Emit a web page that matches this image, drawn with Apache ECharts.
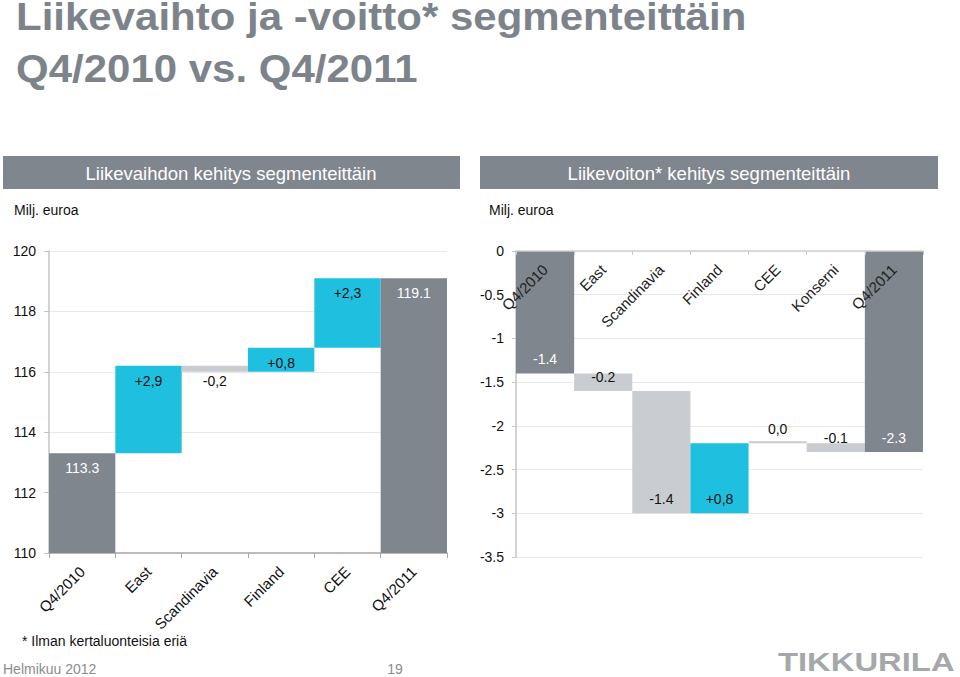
<!DOCTYPE html>
<html><head><meta charset="utf-8">
<script src="https://cdn.jsdelivr.net/npm/echarts@6/dist/echarts.min.js"></script>
<style>html,body{margin:0;padding:0;background:#fff;}#c{width:960px;height:677px;}</style>
</head><body><div id="c"></div>
<script>
// ---- Data ----
const leftCategories = ['Q4/2010', 'East', 'Scandinavia', 'Finland', 'CEE', 'Q4/2011'];
const leftValues = [113.3, 2.9, -0.2, 0.8, 2.3, 119.1];
const leftIsTotal = [true, false, false, false, false, true];
const leftLabels = ['113.3', '+2,9', '-0,2', '+0,8', '+2,3', '119.1'];
const leftAxisMin = 110, leftAxisMax = 120, leftAxisStep = 2;

const rightCategories = ['Q4/2010', 'East', 'Scandinavia', 'Finland', 'CEE', 'Konserni', 'Q4/2011'];
const rightValues = [-1.4, -0.2, -1.4, 0.8, 0.0, -0.1, -2.3];
const rightIsTotal = [true, false, false, false, false, false, true];
const rightLabels = ['-1.4', '-0.2', '-1.4', '+0,8', '0,0', '-0.1', '-2.3'];
const rightAxisMin = -3.5, rightAxisMax = 0, rightAxisStep = 0.5;

// ---- Style ----
const FONT = 'Liberation Sans, Arial, sans-serif';
const C_TOTAL = '#7f868e', C_UP = '#1fbfdf', C_DOWN = '#c9ccd0';

function r(x) { return Math.round(x * 10000) / 10000; }
function waterfall(values, isTotal, negativeSide) {
  const base = [], vis = [], col = [];
  let run = 0;
  values.forEach((v, i) => {
    if (isTotal[i]) { base.push(0); vis.push(v); run = v; col.push(C_TOTAL); }
    else {
      const a = run, b = r(run + v); run = b;
      if (!negativeSide) { base.push(r(Math.min(a, b))); vis.push(r(Math.abs(v))); }
      else { base.push(r(Math.max(a, b))); vis.push(r(-Math.abs(v))); }
      col.push(v > 0 ? C_UP : C_DOWN);
    }
  });
  return { base, vis, col };
}
const L = waterfall(leftValues, leftIsTotal, false);
const R = waterfall(rightValues, rightIsTotal, true);

function visData(w, isTotal) {
  return w.vis.map((v, i) => ({
    value: v,
    itemStyle: { color: w.col[i] },
    label: { color: isTotal[i] ? '#ffffff' : '#111111' }
  }));
}

const chart = echarts.init(document.getElementById('c'), null, { renderer: 'svg' });
const axisLabelY = { fontFamily: FONT, fontSize: 14, color: '#111' };

chart.setOption({
  animation: false,
  backgroundColor: '#ffffff',
  grid: [
    { left: 49, top: 251, width: 398, height: 302 },
    { left: 516, top: 251, width: 407, height: 306 }
  ],
  xAxis: [
    { type: 'category', gridIndex: 0, data: leftCategories, position: 'bottom',
      axisLine: { lineStyle: { color: '#a8a8a8', width: 1.5 } },
      axisTick: { show: true, alignWithLabel: false, interval: 0, length: 5, lineStyle: { color: '#a8a8a8' } },
      axisLabel: { interval: 0, rotate: 45, margin: 16, fontFamily: FONT, fontSize: 15, color: '#111' },
      splitLine: { show: false } },
    { type: 'category', gridIndex: 1, data: rightCategories, position: 'top', z: 10,
      axisLine: { onZero: false, lineStyle: { color: '#d0d0d0', width: 1.5 } },
      axisTick: { show: true, inside: true, alignWithLabel: false, interval: 0, length: 4, lineStyle: { color: '#c8c8c8' } },
      axisLabel: { inside: true, interval: 0, rotate: -45, margin: 16, fontFamily: FONT, fontSize: 15, color: '#222' },
      splitLine: { show: false } }
  ],
  yAxis: [
    { type: 'value', gridIndex: 0, min: leftAxisMin, max: leftAxisMax, interval: leftAxisStep,
      axisLine: { show: true, lineStyle: { color: '#c4c4c4', width: 1.5 } },
      axisTick: { show: true, length: 5, lineStyle: { color: '#c4c4c4' } },
      axisLabel: Object.assign({ margin: 13 }, axisLabelY),
      splitLine: { lineStyle: { color: '#e8e8e8' } } },
    { type: 'value', gridIndex: 1, min: rightAxisMin, max: rightAxisMax, interval: rightAxisStep,
      axisLine: { show: true, lineStyle: { color: '#c4c4c4', width: 1.5 } },
      axisTick: { show: true, length: 4, lineStyle: { color: '#c4c4c4' } },
      axisLabel: Object.assign({ margin: 12 }, axisLabelY),
      splitLine: { lineStyle: { color: '#e8e8e8' } } }
  ],
  series: [
    { type: 'bar', xAxisIndex: 0, yAxisIndex: 0, stack: 'L', stackStrategy: 'all', clip: true,
      barCategoryGap: '0%', silent: true, itemStyle: { color: 'rgba(0,0,0,0)' }, emphasis: { disabled: true },
      data: L.base },
    { type: 'bar', xAxisIndex: 0, yAxisIndex: 0, stack: 'L', stackStrategy: 'all', clip: true,
      barCategoryGap: '0%', emphasis: { disabled: true },
      label: { show: true, position: 'insideTop', distance: 8, fontFamily: FONT, fontSize: 14,
        formatter: p => leftLabels[p.dataIndex] },
      data: visData(L, leftIsTotal) },
    { type: 'bar', xAxisIndex: 1, yAxisIndex: 1, stack: 'R', stackStrategy: 'all', clip: true,
      barCategoryGap: '0%', silent: true, itemStyle: { color: 'rgba(0,0,0,0)' }, emphasis: { disabled: true },
      data: R.base },
    { type: 'bar', xAxisIndex: 1, yAxisIndex: 1, stack: 'R', stackStrategy: 'all', clip: true,
      barCategoryGap: '0%', barMinHeight: 2, emphasis: { disabled: true },
      label: { show: true, position: 'insideBottom', distance: 7, fontFamily: FONT, fontSize: 14,
        formatter: p => rightLabels[p.dataIndex] },
      data: visData(R, rightIsTotal) }
  ],
  graphic: [
    { type: 'text', x: 16, y: 17, scaleY: 0.93, style: { text: 'Liikevaihto ja -voitto* segmenteittäin', font: 'bold 42px ' + FONT, fill: '#7d838a', verticalAlign: 'middle' } },
    { type: 'text', x: 16, y: 69, scaleY: 0.93, style: { text: 'Q4/2010 vs. Q4/2011', font: 'bold 42px ' + FONT, fill: '#7d838a', verticalAlign: 'middle' } },
    { type: 'rect', shape: { x: 3, y: 156, width: 457, height: 33 }, style: { fill: '#80868d' } },
    { type: 'rect', shape: { x: 480, y: 156, width: 458, height: 33 }, style: { fill: '#80868d' } },
    { type: 'text', x: 231, y: 173, style: { text: 'Liikevaihdon kehitys segmenteittäin', font: '18.5px ' + FONT, fill: '#ffffff', align: 'center', verticalAlign: 'middle' } },
    { type: 'text', x: 709, y: 173, style: { text: 'Liikevoiton* kehitys segmenteittäin', font: '18.5px ' + FONT, fill: '#ffffff', align: 'center', verticalAlign: 'middle' } },
    { type: 'text', x: 14, y: 210, style: { text: 'Milj. euroa', font: '14px ' + FONT, fill: '#111', verticalAlign: 'middle' } },
    { type: 'text', x: 489, y: 210, style: { text: 'Milj. euroa', font: '14px ' + FONT, fill: '#111', verticalAlign: 'middle' } },
    { type: 'text', x: 22, y: 641, style: { text: '* Ilman kertaluonteisia eriä', font: '14px ' + FONT, fill: '#111', verticalAlign: 'middle' } },
    { type: 'text', x: 3, y: 669, style: { text: 'Helmikuu 2012', font: '14px ' + FONT, fill: '#8c8c8c', verticalAlign: 'middle' } },
    { type: 'text', x: 395, y: 669, style: { text: '19', font: '14px ' + FONT, fill: '#8c8c8c', align: 'center', verticalAlign: 'middle' } },
    { type: 'text', x: 778, y: 662, scaleX: 1.13, scaleY: 0.92, style: { text: 'TIKKURILA', font: 'bold 29px ' + FONT, fill: '#a5a8ab', verticalAlign: 'middle' } }
  ]
});
</script></body></html>
